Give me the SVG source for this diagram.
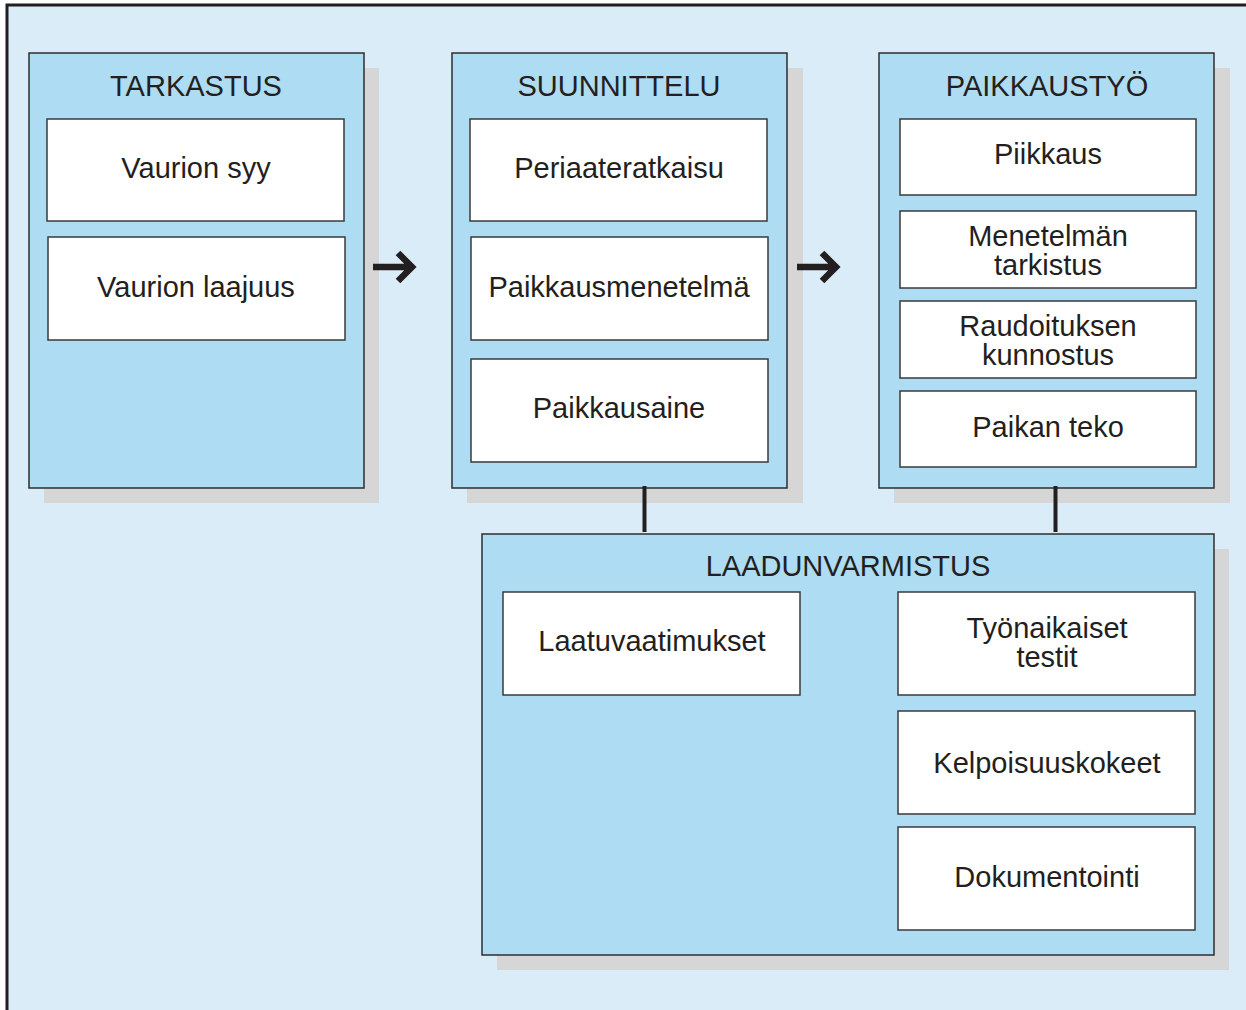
<svg xmlns="http://www.w3.org/2000/svg" width="1246" height="1010" viewBox="0 0 1246 1010">
<style>
.bg{fill:#d9ecf7;stroke:#231f20;stroke-width:3}
.shadow{fill:#d6d6d6}
.panel{fill:#aedcf2;stroke:#2e2e2e;stroke-width:1.5}
.box{fill:#ffffff;stroke:#3a3a3a;stroke-width:1.5}
text{font-family:"Liberation Sans",Arial,sans-serif;font-size:29px;fill:#231f20;text-anchor:middle}
.conn{stroke:#231f20;stroke-width:4;fill:none}
.arrow{stroke:#231f20;stroke-width:6.5;fill:none;stroke-linejoin:miter;stroke-miterlimit:10}
</style>
<rect class="bg" x="7" y="5" width="1260" height="1030"/>
<g id="tarkastus">
<rect class="shadow" x="44" y="68" width="335" height="435"/>
<rect class="panel" x="29" y="53" width="335" height="435"/>
<text x="196" y="96">TARKASTUS</text>
<g id="vaurion-syy"><rect class="box" x="47" y="119" width="297" height="102"/><text x="196" y="178">Vaurion syy</text></g>
<g id="vaurion-laajuus"><rect class="box" x="48" y="237" width="297" height="103"/><text x="196" y="297">Vaurion laajuus</text></g>
</g>
<g id="suunnittelu">
<rect class="shadow" x="467" y="68" width="336" height="435"/>
<rect class="panel" x="452" y="53" width="335" height="435"/>
<text x="619" y="96">SUUNNITTELU</text>
<g id="periaateratkaisu"><rect class="box" x="470" y="119" width="297" height="102"/><text x="619" y="178">Periaateratkaisu</text></g>
<g id="paikkausmenetelma"><rect class="box" x="471" y="237" width="297" height="103"/><text x="619" y="297">Paikkausmenetelmä</text></g>
<g id="paikkausaine"><rect class="box" x="471" y="359" width="297" height="103"/><text x="619" y="418">Paikkausaine</text></g>
</g>
<g id="paikkaustyo">
<rect class="shadow" x="894" y="68" width="336" height="435"/>
<rect class="panel" x="879" y="53" width="335" height="435"/>
<text x="1047" y="96">PAIKKAUSTYÖ</text>
<g id="piikkaus"><rect class="box" x="900" y="119" width="296" height="76"/><text x="1048" y="164">Piikkaus</text></g>
<g id="menetelman-tarkistus"><rect class="box" x="900" y="211" width="296" height="77"/><text x="1048" y="246">Menetelmän</text><text x="1048" y="275">tarkistus</text></g>
<g id="raudoituksen-kunnostus"><rect class="box" x="900" y="301" width="296" height="77"/><text x="1048" y="336">Raudoituksen</text><text x="1048" y="365">kunnostus</text></g>
<g id="paikan-teko"><rect class="box" x="900" y="391" width="296" height="76"/><text x="1048" y="437">Paikan teko</text></g>
</g>
<g id="laadunvarmistus">
<rect class="shadow" x="497" y="549" width="732" height="421"/>
<rect class="panel" x="482" y="534" width="732" height="421"/>
<text x="848" y="576">LAADUNVARMISTUS</text>
<g id="laatuvaatimukset"><rect class="box" x="503" y="592" width="297" height="103"/><text x="652" y="651">Laatuvaatimukset</text></g>
<g id="tyonaikaiset-testit"><rect class="box" x="898" y="592" width="297" height="103"/><text x="1047" y="638">Työnaikaiset</text><text x="1047" y="667">testit</text></g>
<g id="kelpoisuuskokeet"><rect class="box" x="898" y="711" width="297" height="103"/><text x="1047" y="773">Kelpoisuuskokeet</text></g>
<g id="dokumentointi"><rect class="box" x="898" y="827" width="297" height="103"/><text x="1047" y="887">Dokumentointi</text></g>
</g>
<g id="connectors">
<path class="arrow" d="M373 267 H411 M398 253 L412 267 L398 281"/>
<path class="arrow" d="M797 267 H835 M822 253 L836 267 L822 281"/>
<line class="conn" x1="644.5" y1="486" x2="644.5" y2="532"/>
<line class="conn" x1="1055.5" y1="486" x2="1055.5" y2="532"/>
</g>
</svg>
